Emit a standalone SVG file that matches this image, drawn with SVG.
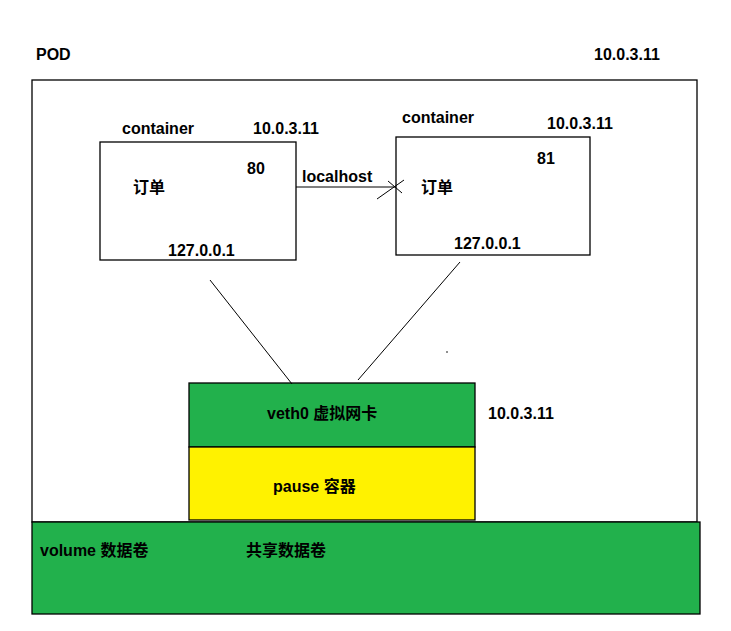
<svg xmlns="http://www.w3.org/2000/svg" width="731" height="631" viewBox="0 0 731 631">
<style>
text{font-family:"Liberation Sans","Noto Sans CJK SC",sans-serif;font-weight:bold;font-size:16px;fill:#000}
.b{stroke:#000;stroke-width:1.3}
.l{stroke:#000;stroke-width:1;fill:none}
</style>
<rect width="731" height="631" fill="#fff"/>
<g id="pod">
<rect x="32" y="80" width="665" height="442" fill="#fff" class="b"/>
<text x="36" y="60">POD</text>
<text x="594" y="60">10.0.3.11</text>
</g>
<g id="volume">
<rect x="32" y="522" width="668" height="92" fill="#22b14c" class="b"/>
<text x="40" y="556">volume 数据卷</text>
<text x="246" y="556">共享数据卷</text>
</g>
<g id="veth0">
<rect x="189" y="383" width="286" height="64" fill="#22b14c" class="b"/>
<text x="267" y="419">veth0  虚拟网卡</text>
<text x="488" y="419">10.0.3.11</text>
</g>
<g id="pause">
<rect x="189" y="447" width="286" height="73" fill="#fff200" class="b"/>
<text x="273" y="492">pause 容器</text>
</g>
<g id="container1">
<rect x="100" y="142" width="196" height="118" fill="#fff" class="b"/>
<text x="122" y="134">container</text>
<text x="253" y="134">10.0.3.11</text>
<text x="247" y="174">80</text>
<text x="133" y="193">订单</text>
<text x="168" y="256">127.0.0.1</text>
</g>
<g id="container2">
<rect x="396" y="137" width="194" height="118" fill="#fff" class="b"/>
<text x="402" y="123">container</text>
<text x="547" y="129">10.0.3.11</text>
<text x="537" y="164">81</text>
<text x="421" y="193">订单</text>
<text x="454" y="249">127.0.0.1</text>
</g>
<g id="connectors">
<line x1="296" y1="187" x2="396" y2="187" class="l"/>
<text x="302" y="182">localhost</text>
<line x1="377" y1="199" x2="404" y2="180" class="l"/>
<line x1="388" y1="181" x2="402" y2="193" class="l"/>
<line x1="210" y1="280" x2="292" y2="384" class="l"/>
<line x1="460" y1="262" x2="358" y2="380" class="l"/>
<circle cx="447" cy="352" r="0.8" fill="#000"/>
</g>
</svg>
